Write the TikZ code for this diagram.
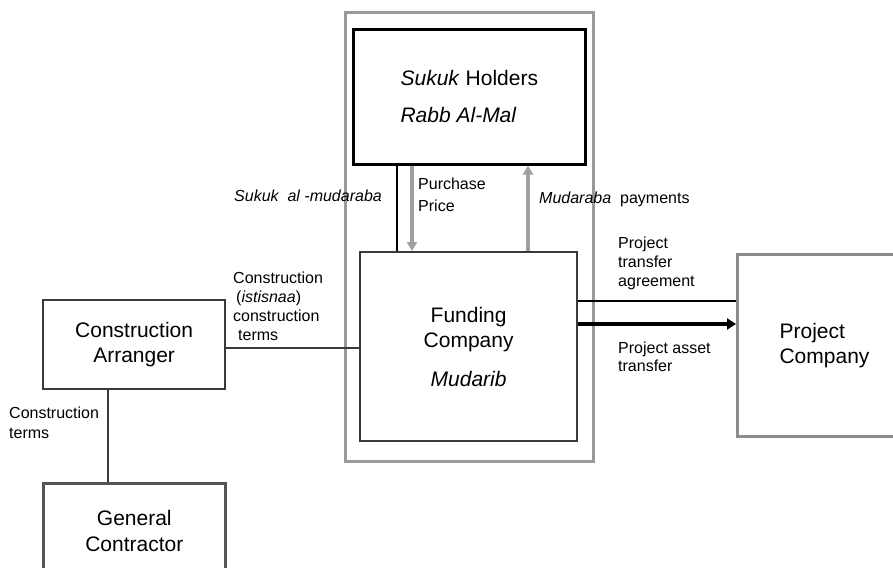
\documentclass[tikz,border=0pt]{standalone}
\usepackage{fontspec}
\setmainfont{Liberation Sans}
\usetikzlibrary{arrows.meta}
\definecolor{outergray}{HTML}{9A9A9A}
\definecolor{projgray}{HTML}{8C8C8C}
\definecolor{darkbox}{HTML}{3A3A3A}
\definecolor{midbox}{HTML}{555555}
\definecolor{arrowgray}{HTML}{A0A0A0}
\begin{document}
\begin{tikzpicture}[x=1pt,y=-1pt,
  bigtxt/.style={font=\fontsize{21}{25.5}\selectfont},
  smalltxt/.style={font=\fontsize{16}{19.5}\selectfont, inner sep=0pt, anchor=west, align=left},
  boxbase/.style={rectangle, anchor=north west, inner sep=0pt, bigtxt},
  outerbox/.style={boxbase, draw=outergray, line width=3pt},
  blackbox/.style={boxbase, draw=black, line width=2.6pt},
  darkboxst/.style={boxbase, draw=darkbox, line width=2.3pt},
  midboxst/.style={boxbase, draw=midbox, line width=2.6pt},
  projbox/.style={boxbase, draw=projgray, line width=3pt},
  blkline/.style={draw=black, line width=1.8pt},
  greyline/.style={draw=darkbox, line width=1.9pt},
  garrow/.style={draw=arrowgray, line width=3.5pt, -{Triangle[length=9pt,width=10pt]}},
  barrow/.style={draw=black, line width=4pt, -{Triangle[length=9pt,width=11pt]}}
]
\useasboundingbox[fill=white] (0,0) rectangle (893,567);

% boxes
\node[outerbox, minimum width=248pt, minimum height=449pt] (outer) at (344,11) {};
\node[blackbox, minimum width=232pt, minimum height=135pt, align=left] (sukuk) at (352,28)
  {\textit{Sukuk} Holders\\[11.5pt]\textit{Rabb Al-Mal}};
\node[darkboxst, minimum width=217pt, minimum height=189pt, align=center] (fund) at (359,251)
  {Funding\\Company\\[13pt]\textit{Mudarib}};
\node[darkboxst, minimum width=182pt, minimum height=89pt, align=center] (arr) at (42,299)
  {Construction\\Arranger};
\node[midboxst, minimum width=182pt, minimum height=95pt, align=center] (gen) at (42,482)
  {General\\Contractor};
\node[projbox, minimum width=174pt, minimum height=182pt, align=left] (proj) at (736,253)
  {Project\\Company};

% coordinates for connector positions
\coordinate (xa) at (397,0);
\coordinate (xb) at (412,0);
\coordinate (xc) at (528,0);
\coordinate (xd) at (108,0);
\coordinate (ya) at (0,348);
\coordinate (yb) at (0,301);
\coordinate (yc) at (0,324);

% connectors
\draw[blkline] (sukuk.south -| xa) -- (fund.north -| xa);
\draw[garrow] (sukuk.south -| xb) -- (fund.north -| xb);
\draw[garrow] (fund.north -| xc) -- (sukuk.south -| xc);
\draw[greyline] (arr.east |- ya) -- (fund.west |- ya);
\draw[greyline] (arr.south -| xd) -- (gen.north -| xd);
\draw[blkline] (fund.east |- yb) -- (proj.west |- yb);
\draw[barrow] (fund.east |- yc) -- (proj.west |- yc);

% labels
\node[smalltxt] (lsukmud) at (234,196) {\textit{Sukuk\ \ al -mudaraba}};
\node[smalltxt, font=\fontsize{16}{21.5}\selectfont] (lpurch) at (418,195) {Purchase\\Price};
\node[smalltxt] (lmudpay) at (539,199) {\textit{Mudaraba}\ \ payments};
\node[smalltxt, font=\fontsize{16}{19}\selectfont] (lconst) at (233,306)
  {Construction\\\hspace*{3pt}(\textit{istisnaa})\\construction\\\hspace*{5pt}terms};
\node[smalltxt, font=\fontsize{16}{19}\selectfont] (lptagr) at (618,263) {Project\\transfer\\agreement};
\node[smalltxt, font=\fontsize{16}{18.5}\selectfont] (lpasset) at (618,357) {Project asset\\transfer};
\node[smalltxt, font=\fontsize{16}{20}\selectfont] (lcterms) at (9,423) {Construction\\terms};
\end{tikzpicture}
\end{document}
